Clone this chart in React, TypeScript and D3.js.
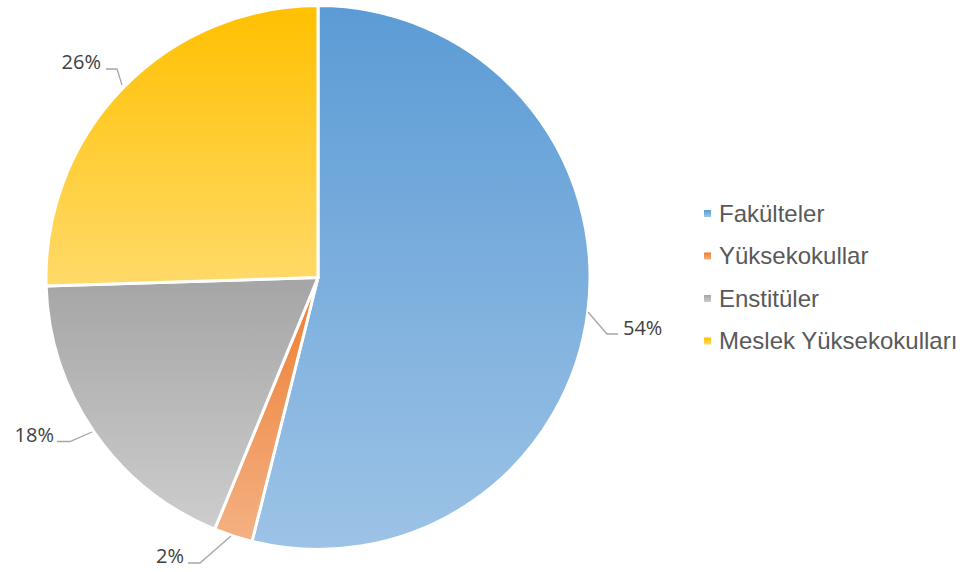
import React from "react";
import * as d3 from "d3";

const categories = ["Fakülteler", "Yüksekokullar", "Enstitüler", "Meslek Yüksekokulları"];
const values = [53.9, 2.3, 18.3, 25.5];
const labels = ["54%", "2%", "18%", "26%"];
const topColors = ["#5B9BD5", "#ED7D31", "#A5A5A5", "#FFC000"];
const bottomColors = ["#9DC3E6", "#F4B183", "#CDCDCD", "#FFDA6A"];

const W = 969;
const H = 572;
const cx = 318;
const cy = 277.5;
const R = 272;

const labelLayout = [
  { tx: 623, ty: 335, anchor: "start", line: [[588, 312], [607, 334], [618, 334]] },
  { tx: 184, ty: 563, anchor: "end", line: [[231, 536], [200, 563], [188, 563]] },
  { tx: 54, ty: 442, anchor: "end", line: [[92, 432], [70, 441.5], [57, 441.5]] },
  { tx: 101, ty: 69, anchor: "end", line: [[122, 85], [117, 69], [106, 69]] },
];

export default function App() {
  const pie = d3.pie<number>().sort(null).value((d) => d);
  const arcs = pie(values);
  const arc = d3.arc<d3.PieArcDatum<number>>().innerRadius(0).outerRadius(R);
  const line = d3.line();

  return (
    <svg width={W} height={H} style={{ position: "absolute", left: 0, top: 0, background: "#fff" }}>
      <defs>
        {categories.map((c, i) => (
          <linearGradient key={c} id={`g${i}`} x1="0" y1="0" x2="0" y2="1">
            <stop offset="0%" stopColor={topColors[i]} />
            <stop offset="100%" stopColor={bottomColors[i]} />
          </linearGradient>
        ))}
      </defs>
      <g transform={`translate(${cx},${cy})`}>
        {arcs.map((a, i) => (
          <path key={i} d={arc(a) || ""} fill={`url(#g${i})`} stroke="#fff" strokeWidth={3} strokeLinejoin="round" />
        ))}
      </g>
      {labelLayout.map((l, i) => (
        <g key={i}>
          <path d={line(l.line as [number, number][]) || ""} fill="none" stroke="#A6A6A6" strokeWidth={1.3} />
          <text
            x={l.tx}
            y={l.ty}
            textAnchor={l.anchor as any}
            fontFamily="'Open Sans', sans-serif"
            fontSize={20}
            fill="#404040"
          >
            {labels[i]}
          </text>
        </g>
      ))}
      {categories.map((c, i) => {
        const y = 213.5 + i * 42.5;
        return (
          <g key={c}>
            <rect x={704} y={y - 3.5} width={7} height={7} fill={`url(#g${i})`} />
            <text x={719} y={y + 8.3} fontFamily="'Liberation Sans', Arial, sans-serif" fontSize={24} fill="#595959">
              {c}
            </text>
          </g>
        );
      })}
    </svg>
  );
}
